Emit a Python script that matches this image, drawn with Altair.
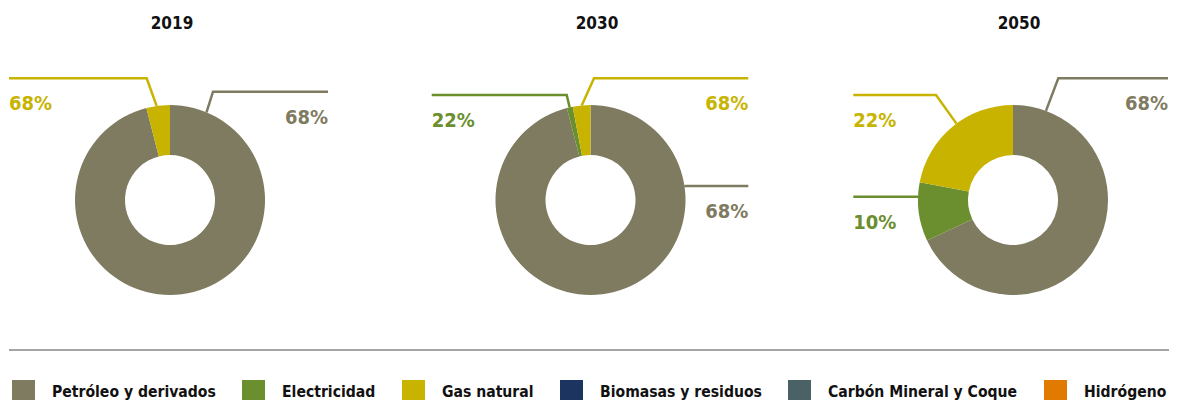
import math
import altair as alt
import pandas as pd

# ---------------- data ----------------
years = ["2019", "2030", "2050"]
categories = ["Petróleo y derivados", "Electricidad", "Gas natural",
              "Biomasas y residuos", "Carbón Mineral y Coque", "Hidrógeno"]
petroleo = [96, 96, 68]
electricidad = [0, 1, 10]
gas_natural = [4, 3, 22]
biomasas = [0, 0, 0]
carbon = [0, 0, 0]
hidrogeno = [0, 0, 0]

label_year = ["2019", "2019", "2030", "2030", "2030", "2050", "2050", "2050"]
label_cat = ["Petróleo y derivados", "Gas natural", "Gas natural", "Electricidad",
             "Petróleo y derivados", "Petróleo y derivados", "Gas natural", "Electricidad"]
label_text = ["68%", "68%", "68%", "22%", "68%", "68%", "22%", "10%"]

palette = ["#7f7b61", "#6b8e2e", "#c8b400", "#1c3560", "#4a6266", "#e07b00"]

# ---------------- layout (page pixels) ----------------
W, H = 1161, 392
ORIGIN = 8
centers_x = [170, 590.5, 1013]
center_y = 200
R_OUT, R_IN = 95, 45
title_x = [172, 597, 1019]
title_y = 24
leader_angle = [22.6, 351.9, 354.7, 347.3, 81.5, 20.3, 323.5, 272.0]
leader_elbow_x = [213, 146.7, 594, 566.7, None, 1058.3, 936, None]
leader_elbow_y = [91.7, 78.3, 78.3, 95, 186, 78.3, 95, 196.7]
leader_end_x = [328, 9, 748.3, 431.7, 748.3, 1168, 853.3, 853.3]
TEXT_DY = 32
rule_x, rule_x2, rule_y = 9, 1169, 350
FONT = "DejaVu Sans Condensed"

# ---------------- tables ----------------
series = [petroleo, electricidad, gas_natural, biomasas, carbon, hidrogeno]
arc_rows = []
for yi, yr in enumerate(years):
    acc = 0.0
    for ci, cat in enumerate(categories):
        v = series[ci][yi]
        if v <= 0:
            continue
        arc_rows.append({"year": yr, "cat": cat, "value": v, "t0": acc, "t1": acc + v,
                         "cx": centers_x[yi], "cy": center_y})
        acc += v
arc_df = pd.DataFrame(arc_rows)

line_rows, text_rows = [], []
for i in range(len(label_text)):
    yi = years.index(label_year[i])
    cx = centers_x[yi]
    a = math.radians(leader_angle[i])
    ax = cx + R_OUT * math.sin(a)
    ay = center_y - R_OUT * math.cos(a)
    ex = leader_elbow_x[i] if leader_elbow_x[i] is not None else ax
    ey = leader_elbow_y[i]
    pts = [(ax, ay), (ex, ey), (leader_end_x[i], ey)]
    for k, (px, py) in enumerate(pts):
        line_rows.append({"id": i, "k": k, "x": px, "y": py, "cat": label_cat[i]})
    align = "right" if leader_end_x[i] > ax else "left"
    text_rows.append({"x": leader_end_x[i], "y": ey + TEXT_DY, "cat": label_cat[i],
                      "label": label_text[i], "align": align})
line_df = pd.DataFrame(line_rows)
text_df = pd.DataFrame(text_rows)
title_df = pd.DataFrame({"year": years, "x": title_x, "y": [title_y] * 3})
rule_df = pd.DataFrame({"x": [rule_x], "x2": [rule_x2], "y": [rule_y]})

xs = alt.Scale(domain=[ORIGIN, ORIGIN + W], nice=False, zero=False)
ys = alt.Scale(domain=[ORIGIN, ORIGIN + H], reverse=True, nice=False, zero=False)
cs = alt.Scale(domain=categories, range=palette)

arcs = alt.Chart(arc_df).mark_arc(innerRadius=R_IN, outerRadius=R_OUT).encode(
    x=alt.X("cx:Q", scale=xs, axis=None),
    y=alt.Y("cy:Q", scale=ys, axis=None),
    theta=alt.Theta("t0:Q", scale=alt.Scale(domain=[0, 100], range=[0, 2 * math.pi])),
    theta2=alt.Theta2("t1:Q"),
    color=alt.Color("cat:N", scale=cs, legend=alt.Legend(
        title=None, orient="none", legendX=4, legendY=372, direction="horizontal",
        columns=6, symbolType="square", symbolSize=529, symbolStrokeWidth=0,
        symbolOpacity=1, labelFont=FONT, labelFontSize=15.6, labelFontWeight="bold",
        labelColor="#111111", labelOffset=17, columnPadding=26, labelLimit=400,
        padding=0)),
)

leaders = alt.Chart(line_df).mark_line(strokeWidth=2.5).encode(
    x=alt.X("x:Q", scale=xs, axis=None),
    y=alt.Y("y:Q", scale=ys, axis=None),
    detail="id:N",
    order="k:Q",
    color=alt.Color("cat:N", scale=alt.Scale(domain=categories, range=palette), legend=None),
)

labels_right = alt.Chart(text_df[text_df["align"] == "right"]).mark_text(
    align="right", baseline="alphabetic", font=FONT, fontSize=20, fontWeight="bold"
).encode(
    x=alt.X("x:Q", scale=xs, axis=None),
    y=alt.Y("y:Q", scale=ys, axis=None),
    text="label:N",
    color=alt.Color("cat:N", scale=alt.Scale(domain=categories, range=palette), legend=None),
)
labels_left = alt.Chart(text_df[text_df["align"] == "left"]).mark_text(
    align="left", baseline="alphabetic", font=FONT, fontSize=20, fontWeight="bold"
).encode(
    x=alt.X("x:Q", scale=xs, axis=None),
    y=alt.Y("y:Q", scale=ys, axis=None),
    text="label:N",
    color=alt.Color("cat:N", scale=alt.Scale(domain=categories, range=palette), legend=None),
)

titles = alt.Chart(title_df).mark_text(
    align="center", baseline="middle", font=FONT, fontSize=17, fontWeight="bold",
    color="#111111"
).encode(
    x=alt.X("x:Q", scale=xs, axis=None),
    y=alt.Y("y:Q", scale=ys, axis=None),
    text="year:N",
)

rule = alt.Chart(rule_df).mark_rule(color="#a5a5a5", strokeWidth=2).encode(
    x=alt.X("x:Q", scale=xs, axis=None),
    x2="x2:Q",
    y=alt.Y("y:Q", scale=ys, axis=None),
)

chart = alt.layer(arcs, leaders, labels_right, labels_left, titles, rule).resolve_scale(
    color="independent"
).properties(
    width=W, height=H, padding=0, autosize=alt.AutoSizeParams(type="none")
).configure_view(stroke="transparent")

chart.save("out.html", embed_options={"renderer": "svg", "actions": False})
